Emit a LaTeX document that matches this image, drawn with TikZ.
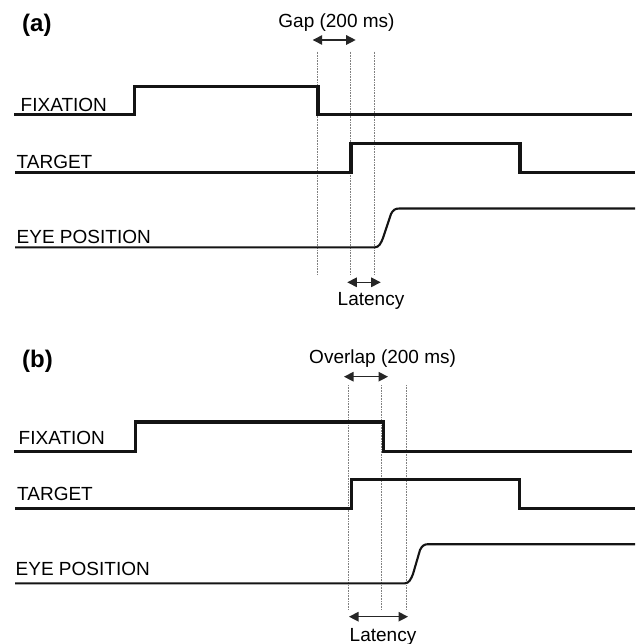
\documentclass[tikz,border=0pt]{standalone}
\usepackage{fontspec}
\setmainfont{Liberation Sans}
\usetikzlibrary{arrows.meta}
\tikzset{
  sig/.style={line width=3.3pt, color=black!92, line join=miter},
  eye/.style={line width=2.1pt, color=black!92, line join=round},
  guide/.style={line width=1pt, color=black!50, dash pattern=on 0.8pt off 0.8pt},
  span/.style={line width=1.3pt, color=black!85, {Triangle[length=9.5pt,width=9.5pt]}-{Triangle[length=9.5pt,width=9.5pt]}},
  lab/.style={inner sep=0pt, anchor=base west, font=\fontsize{19}{22}\selectfont},
  ctext/.style={inner sep=0pt, anchor=base, font=\fontsize{19}{22}\selectfont},
  panel/.style={inner sep=0pt, anchor=base west, font=\fontsize{24}{28}\selectfont\bfseries}
}
\begin{document}
\begin{tikzpicture}[x=1pt,y=-1pt]
\useasboundingbox[fill=white] (0,0) rectangle (635,644);

% ---------------- panel (a) ----------------
\node[panel] (pa) at (22,32) {(a)};
\node[lab] (fa) at (20.5,111.7) {FIXATION};
\node[lab] (ta) at (16.5,168.3) {TARGET};
\node[lab] (ea) at (16.5,243.3) {EYE POSITION};

% guides
\coordinate (a1t) at (317,51.7); \coordinate (a1b) at (317,275);
\coordinate (a2t) at (350.3,51.7); \coordinate (a2b) at (350.3,275);
\coordinate (a3t) at (374.3,51.7); \coordinate (a3b) at (374.3,275);
\draw[guide] (a1t) -- (a1b);
\draw[guide] (a2t) -- (a2b);
\draw[guide] (a3t) -- (a3b);

% signals
\draw[sig] (14,114.5) -- (134.5,114.5) -- (134.5,86.5) -- (318,86.5) -- (318,114.5) -- (632,114.5);
\draw[sig] (15,172.7) -- (351,172.7) -- (351,143.2) -- (520,143.2) -- (520,172.7) -- (635,172.7);
\draw[eye] (15,247.3) -- (375,247.3) .. controls (379,247.3) and (381,243) .. (383,238)
  -- (391,214) .. controls (393,210) and (395,208.5) .. (399.5,208.5) -- (635,208.5);

% gap / latency
\coordinate (ga1) at (312.7,40); \coordinate (ga2) at (355.7,40);
\draw[span] (ga1) -- (ga2);
\node[ctext] (gt) at (336.5,27.5) {Gap (200 ms)};
\coordinate (la1) at (347.3,282.3); \coordinate (la2) at (380.7,282.3);
\draw[span] (la1) -- (la2);
\node[ctext] (lt) at (371,305) {Latency};

% ---------------- panel (b) ----------------
\node[panel] (pb) at (22,367) {(b)};
\node[lab] (fb) at (18.5,444) {FIXATION};
\node[lab] (tb) at (17,500) {TARGET};
\node[lab] (eb) at (15.5,575) {EYE POSITION};

\coordinate (b1t) at (348.2,385); \coordinate (b1b) at (348.2,610);
\coordinate (b2t) at (381.8,385); \coordinate (b2b) at (381.8,610);
\coordinate (b3t) at (406,385); \coordinate (b3b) at (406,610);
\draw[guide] (b1t) -- (b1b);
\draw[guide] (b2t) -- (b2b);
\draw[guide] (b3t) -- (b3b);

\draw[sig] (14,451.2) -- (135.5,451.2) -- (135.5,421.9) -- (383.4,421.9) -- (383.4,451.2) -- (632,451.2);
\draw[sig] (15,508.5) -- (351.4,508.5) -- (351.4,479.3) -- (519.5,479.3) -- (519.5,508.5) -- (635,508.5);
\draw[eye] (15,583.3) -- (405,583.3) .. controls (409,583.3) and (411,579) .. (413,574)
  -- (420,550) .. controls (422,546) and (424,544.2) .. (428,544.2) -- (635,544.2);

\coordinate (oa1) at (344,376.7); \coordinate (oa2) at (388,376.7);
\draw[span] (oa1) -- (oa2);
\node[ctext] (ot) at (382.6,363.3) {Overlap (200 ms)};
\coordinate (lb1) at (349,616.7); \coordinate (lb2) at (408,616.7);
\draw[span] (lb1) -- (lb2);
\node[ctext] (ltb) at (383,641.4) {Latency};
\end{tikzpicture}
\end{document}
